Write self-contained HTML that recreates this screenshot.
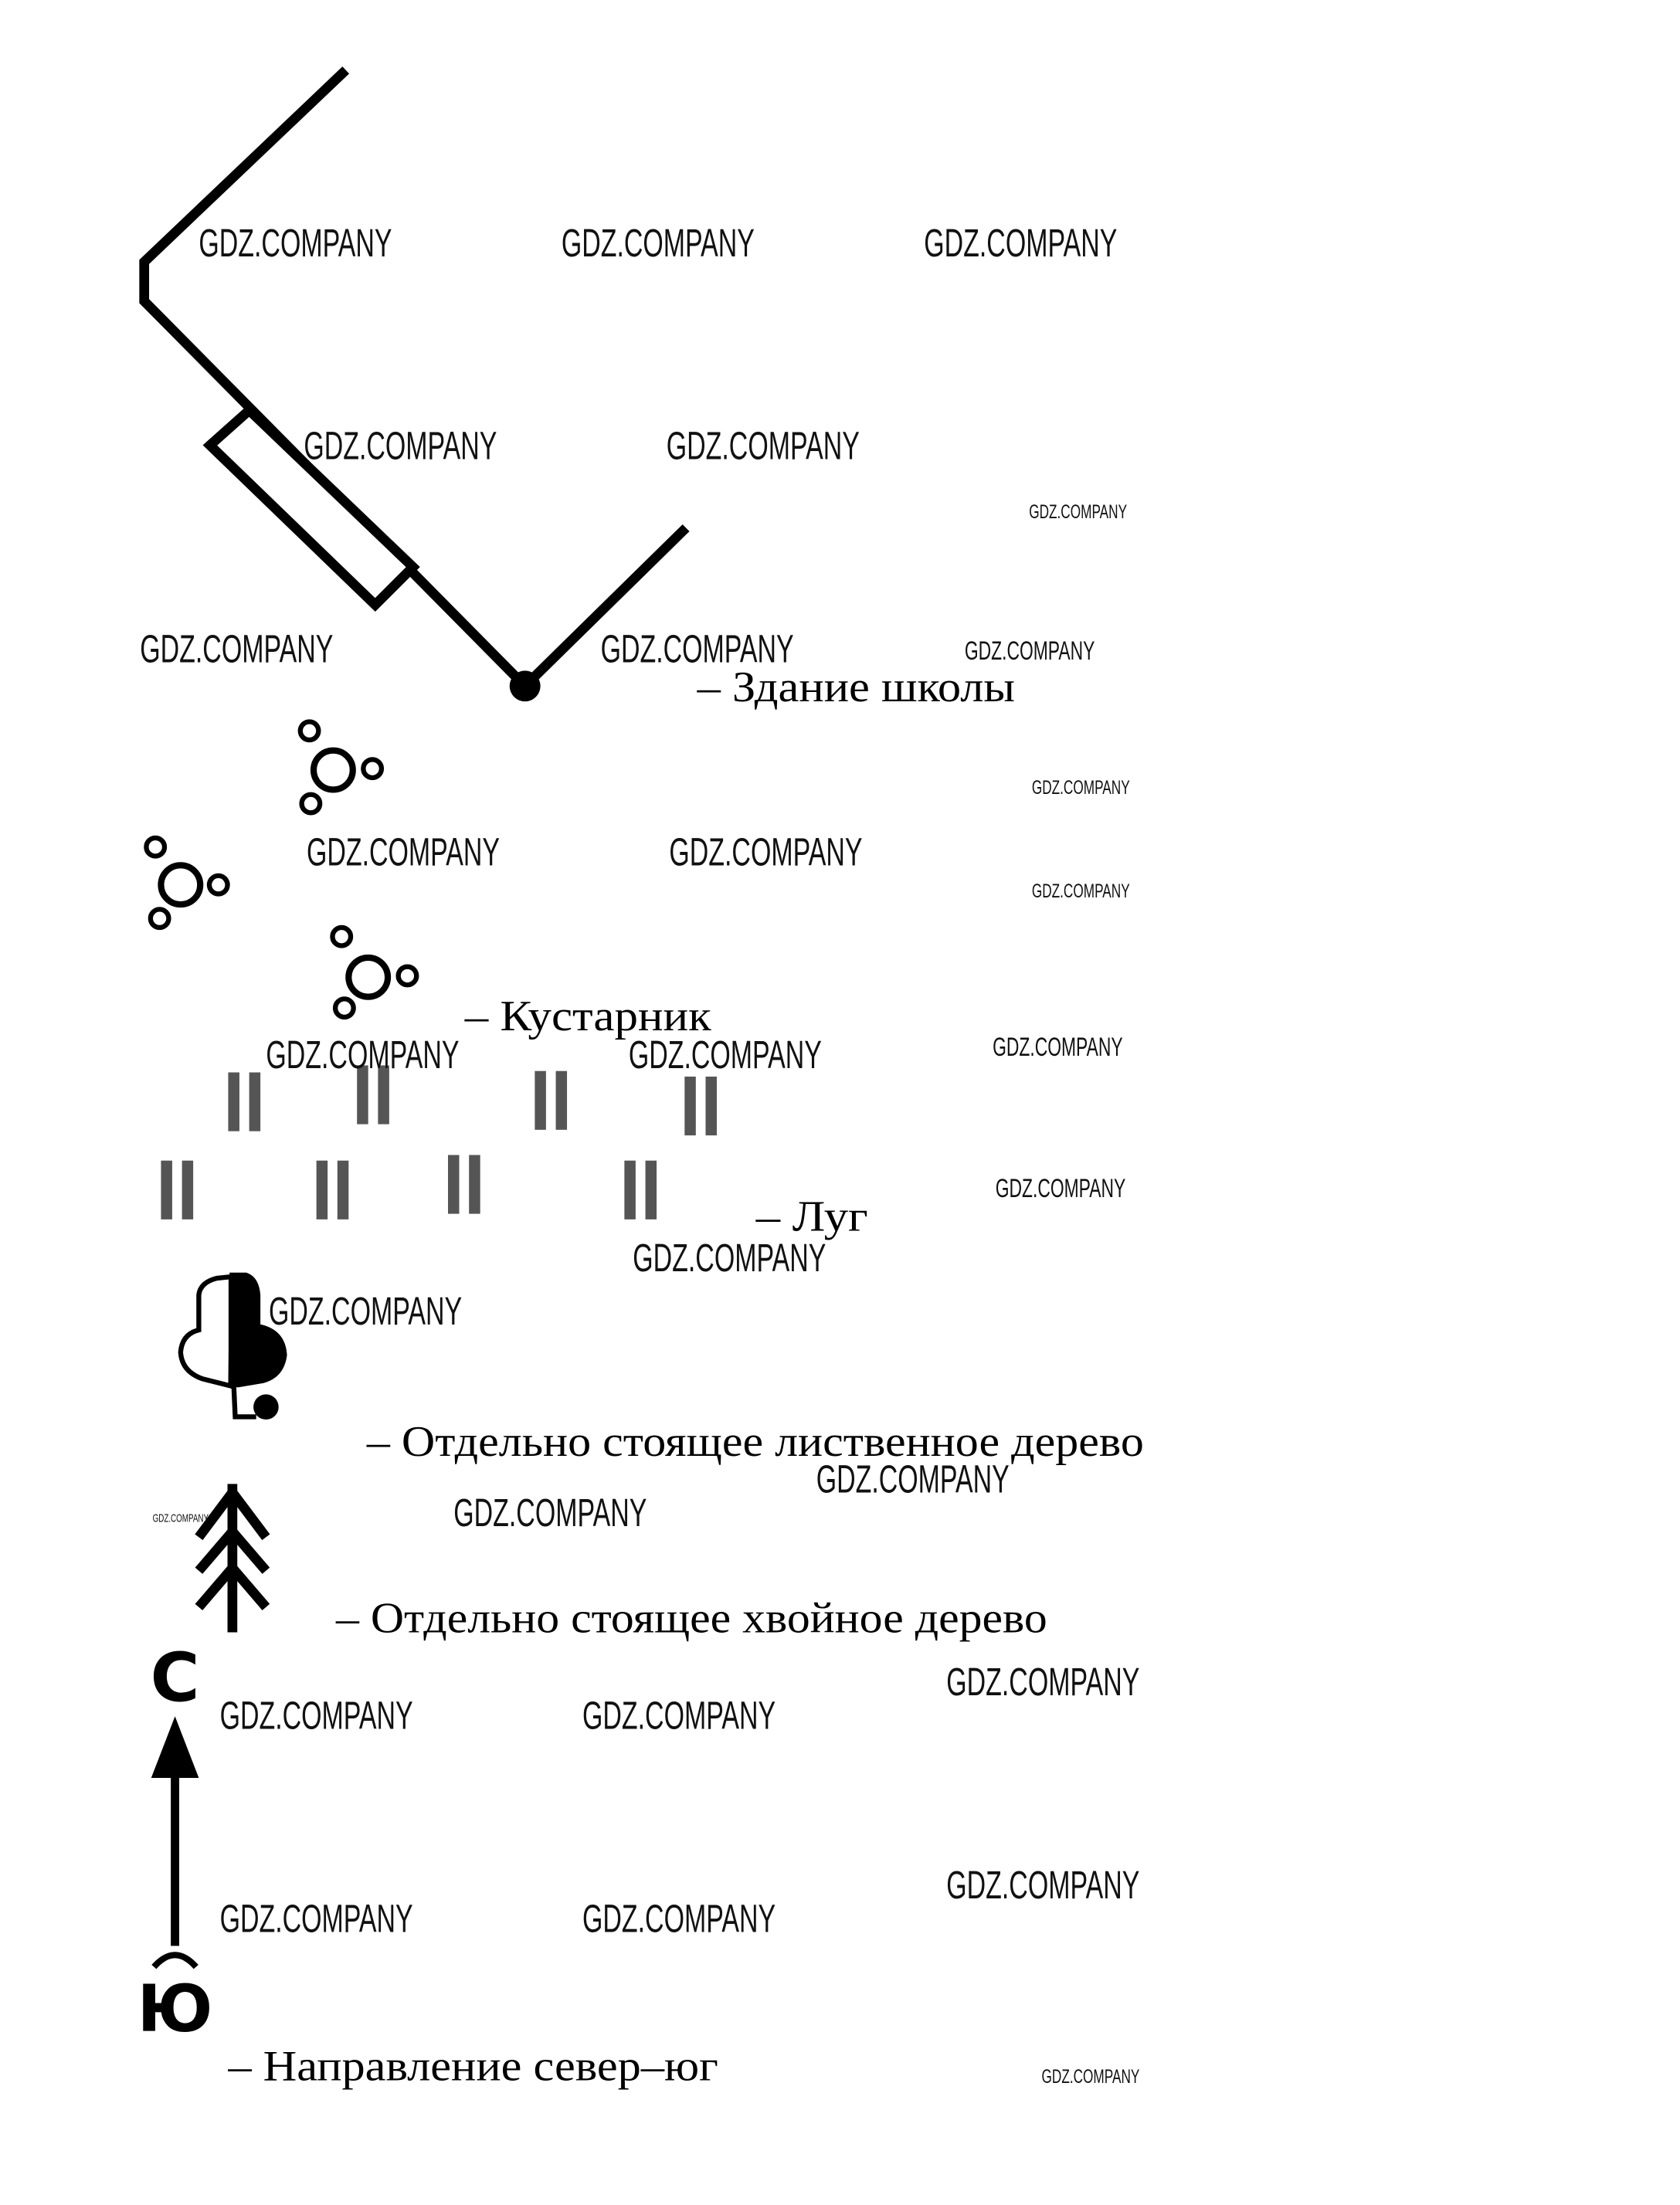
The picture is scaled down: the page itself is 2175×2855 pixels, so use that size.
<!DOCTYPE html>
<html><head><meta charset="utf-8"><style>html,body{margin:0;padding:0;background:#fff}svg{display:block}</style></head><body>
<svg width="2175" height="2855" viewBox="0 0 1200 1575" xmlns="http://www.w3.org/2000/svg">
<rect width="1200" height="1575" fill="#fff"/>
<g fill="none" stroke="#000" stroke-width="7" stroke-linejoin="miter">
<polyline points="247,50 103,187 103,215 375,490 490,377"/>
<polygon points="150,318 178,293 295,405 268,432" fill="#fff"/>
</g>
<circle cx="375" cy="490" r="11" fill="#000"/>
<g fill="none" stroke="#000">
<g stroke-width="4.5"><circle cx="238" cy="550" r="14"/><circle cx="129" cy="632" r="14"/><circle cx="263" cy="698" r="14"/></g>
<g stroke-width="3.5"><circle cx="221" cy="522" r="6.5"/><circle cx="266" cy="549" r="6.5"/><circle cx="222" cy="574" r="6.5"/>
<circle cx="111" cy="605" r="6.5"/><circle cx="156" cy="632" r="6.5"/><circle cx="114" cy="656" r="6.5"/>
<circle cx="244" cy="669" r="6.5"/><circle cx="291" cy="697" r="6.5"/><circle cx="246" cy="720" r="6.5"/></g>
</g>
<g fill="#555">
<rect x="163" y="766" width="8" height="42"/><rect x="178" y="766" width="8" height="42"/>
<rect x="255" y="761" width="8" height="42"/><rect x="270" y="761" width="8" height="42"/>
<rect x="382" y="765" width="8" height="42"/><rect x="397" y="765" width="8" height="42"/>
<rect x="489" y="769" width="8" height="42"/><rect x="504" y="769" width="8" height="42"/>
<rect x="115" y="829" width="8" height="42"/><rect x="130" y="829" width="8" height="42"/>
<rect x="226" y="829" width="8" height="42"/><rect x="241" y="829" width="8" height="42"/>
<rect x="320" y="825" width="8" height="42"/><rect x="335" y="825" width="8" height="42"/>
<rect x="446" y="829" width="8" height="42"/><rect x="461" y="829" width="8" height="42"/>
</g>
<!-- deciduous tree -->
<path d="M165,912 L155,913 Q143,916 142,925 L142,950 Q130,953 129,966 Q130,980 145,985 L165,990 Z" fill="#fff" stroke="#000" stroke-width="3.5"/>
<path d="M164,909 L176,909 Q185,912 186,925 L186,946 Q204,950 205,968 Q203,984 188,988 L170,991 L163,990 Z" fill="#000"/>
<polyline points="167,990 168,1012 183,1012" fill="none" stroke="#000" stroke-width="3.5"/>
<circle cx="190" cy="1005" r="9" fill="#000"/>
<!-- conifer -->
<g fill="none" stroke="#000" stroke-width="7">
<line x1="166" y1="1060" x2="166" y2="1166"/>
<polyline points="142,1098 166,1066 190,1098"/>
<polyline points="142,1122 166,1094 190,1122"/>
<polyline points="142,1148 166,1120 190,1148"/>
</g>
<!-- arrow -->
<text x="125" y="1215" font-family="DejaVu Sans, sans-serif" font-weight="bold" font-size="48" text-anchor="middle">С</text>
<line x1="125" y1="1268" x2="125" y2="1390" stroke="#000" stroke-width="6"/>
<polygon points="125,1226 108,1270 142,1270" fill="#000"/>
<path d="M110,1405 Q125,1388 140,1405" fill="none" stroke="#000" stroke-width="4.5"/>
<text x="125" y="1451" font-family="DejaVu Sans, sans-serif" font-weight="bold" font-size="46" text-anchor="middle">Ю</text>
<g font-family="Liberation Serif, serif" font-size="31" fill="#000">
<text x="498" y="501" textLength="227" lengthAdjust="spacingAndGlyphs">– Здание школы</text>
<text x="332" y="736" textLength="176" lengthAdjust="spacingAndGlyphs">– Кустарник</text>
<text x="540" y="879" textLength="80" lengthAdjust="spacingAndGlyphs">– Луг</text>
<text x="262" y="1040" textLength="555" lengthAdjust="spacingAndGlyphs">– Отдельно стоящее лиственное дерево</text>
<text x="240" y="1166" textLength="508" lengthAdjust="spacingAndGlyphs">– Отдельно стоящее хвойное дерево</text>
<text x="163" y="1486" textLength="350" lengthAdjust="spacingAndGlyphs">– Направление север–юг</text>
</g>
<g font-family="Liberation Sans, sans-serif" fill="#111" font-size="28">
<text x="142" y="183" textLength="138" lengthAdjust="spacingAndGlyphs">GDZ.COMPANY</text>
<text x="401" y="183" textLength="138" lengthAdjust="spacingAndGlyphs">GDZ.COMPANY</text>
<text x="660" y="183" textLength="138" lengthAdjust="spacingAndGlyphs">GDZ.COMPANY</text>
<text x="217" y="328" textLength="138" lengthAdjust="spacingAndGlyphs">GDZ.COMPANY</text>
<text x="476" y="328" textLength="138" lengthAdjust="spacingAndGlyphs">GDZ.COMPANY</text>
<text x="100" y="473" textLength="138" lengthAdjust="spacingAndGlyphs">GDZ.COMPANY</text>
<text x="429" y="473" textLength="138" lengthAdjust="spacingAndGlyphs">GDZ.COMPANY</text>
<text x="219" y="618" textLength="138" lengthAdjust="spacingAndGlyphs">GDZ.COMPANY</text>
<text x="478" y="618" textLength="138" lengthAdjust="spacingAndGlyphs">GDZ.COMPANY</text>
<text x="190" y="763" textLength="138" lengthAdjust="spacingAndGlyphs">GDZ.COMPANY</text>
<text x="449" y="763" textLength="138" lengthAdjust="spacingAndGlyphs">GDZ.COMPANY</text>
<text x="452" y="908" textLength="138" lengthAdjust="spacingAndGlyphs">GDZ.COMPANY</text>
<text x="192" y="946" textLength="138" lengthAdjust="spacingAndGlyphs">GDZ.COMPANY</text>
<text x="583" y="1066" textLength="138" lengthAdjust="spacingAndGlyphs">GDZ.COMPANY</text>
<text x="324" y="1090" textLength="138" lengthAdjust="spacingAndGlyphs">GDZ.COMPANY</text>
<text x="676" y="1211" textLength="138" lengthAdjust="spacingAndGlyphs">GDZ.COMPANY</text>
<text x="157" y="1235" textLength="138" lengthAdjust="spacingAndGlyphs">GDZ.COMPANY</text>
<text x="416" y="1235" textLength="138" lengthAdjust="spacingAndGlyphs">GDZ.COMPANY</text>
<text x="676" y="1356" textLength="138" lengthAdjust="spacingAndGlyphs">GDZ.COMPANY</text>
<text x="157" y="1380" textLength="138" lengthAdjust="spacingAndGlyphs">GDZ.COMPANY</text>
<text x="416" y="1380" textLength="138" lengthAdjust="spacingAndGlyphs">GDZ.COMPANY</text>
</g>
<g font-family="Liberation Sans, sans-serif" fill="#111" font-size="19">
<text x="689" y="471" textLength="93" lengthAdjust="spacingAndGlyphs">GDZ.COMPANY</text>
<text x="709" y="754" textLength="93" lengthAdjust="spacingAndGlyphs">GDZ.COMPANY</text>
<text x="711" y="855" textLength="93" lengthAdjust="spacingAndGlyphs">GDZ.COMPANY</text>
</g>
<g font-family="Liberation Sans, sans-serif" fill="#111" font-size="14">
<text x="735" y="370" textLength="70" lengthAdjust="spacingAndGlyphs">GDZ.COMPANY</text>
<text x="737" y="567" textLength="70" lengthAdjust="spacingAndGlyphs">GDZ.COMPANY</text>
<text x="737" y="641" textLength="70" lengthAdjust="spacingAndGlyphs">GDZ.COMPANY</text>
<text x="744" y="1488" textLength="70" lengthAdjust="spacingAndGlyphs">GDZ.COMPANY</text>
<text x="109" y="1087" font-size="8" textLength="40" lengthAdjust="spacingAndGlyphs">GDZ.COMPANY</text>
</g>
</svg>
</body></html>
